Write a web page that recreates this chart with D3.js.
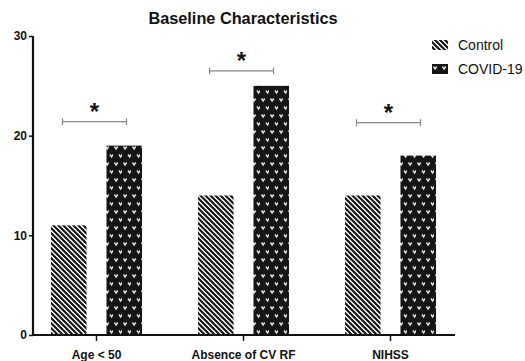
<!DOCTYPE html>
<html><head><meta charset="utf-8">
<script src="https://cdn.jsdelivr.net/npm/d3@7"></script>
<style>body{margin:0;background:#fff}svg{display:block}</style>
</head><body>
<script>
const categories = ["Age < 50", "Absence of CV RF", "NIHSS"];
const seriesNames = ["Control", "COVID-19"];
const controlValues = [11, 14, 14];
const covidValues = [19, 25, 18];
const sigLevels = [21.4, 26.5, 21.3];
const yTicks = [0, 10, 20, 30];
const title = "Baseline Characteristics";

const W = 525, H = 361;
const svg = d3.select("body").append("svg").attr("width", W).attr("height", H);
const font = "Liberation Sans, Arial, Helvetica, sans-serif";

const defs = svg.append("defs");
const stripe = defs.append("pattern").attr("id", "stripe").attr("patternUnits", "userSpaceOnUse")
  .attr("width", 5).attr("height", 5);
stripe.append("rect").attr("width", 5).attr("height", 5).attr("fill", "#fff");
stripe.append("path").attr("d", "M-1,-1L6,6M-1,4L1,6M4,-1L6,1")
  .attr("stroke", "#111").attr("stroke-width", 2.1).attr("fill", "none");

const dots = defs.append("pattern").attr("id", "dots").attr("patternUnits", "userSpaceOnUse")
  .attr("width", 9).attr("height", 16);
dots.append("rect").attr("width", 9).attr("height", 16).attr("fill", "#151515");
[[1.5, 2.5], [6, 10.5]].forEach(([x, y]) => {
  dots.append("path").attr("d", `M${x},${y} L${x + 1.6},${y + 2.4} L${x + 3.2},${y}`)
    .attr("fill", "none").attr("stroke", "#e4e4e4").attr("stroke-width", 1.4);
});

const y = d3.scaleLinear().domain([0, 30]).range([335, 36]);
const x0 = d3.scaleBand().domain(categories).range([23, 464]).padding(0);
const x1 = d3.scaleBand().domain(seriesNames).range([28, 119]).paddingInner(0.36).paddingOuter(0);
const fills = { "Control": "url(#stripe)", "COVID-19": "url(#dots)" };

const data = categories.map((c, i) => ({ cat: c, vals: [
  { s: "Control", v: controlValues[i] }, { s: "COVID-19", v: covidValues[i] }] }));

const g = svg.append("g");
g.selectAll("g.grp").data(data).join("g").attr("class", "grp")
  .attr("transform", d => `translate(${x0(d.cat)},0)`)
  .selectAll("rect").data(d => d.vals).join("rect")
  .attr("x", d => x1(d.s)).attr("width", x1.bandwidth())
  .attr("y", d => y(d.v)).attr("height", d => y(0) - y(d.v))
  .attr("fill", d => fills[d.s]);

// axes
const yAxis = svg.append("g").attr("transform", "translate(33,0)")
  .call(d3.axisLeft(y).tickValues(yTicks).tickSize(4).tickPadding(2));
yAxis.select(".domain").attr("stroke", "#111").attr("stroke-width", 2.2)
  .attr("d", `M0,${y(30)}V${y(0) + 1}`);
yAxis.selectAll(".tick line").attr("stroke", "#111").attr("stroke-width", 1.5);
yAxis.selectAll("text").attr("font-family", font).attr("font-size", 12).attr("font-weight", "bold").attr("fill", "#111");

const xAxis = svg.append("g").attr("transform", `translate(0,${y(0)})`)
  .call(d3.axisBottom(x0).tickSize(6).tickPadding(9));
xAxis.select(".domain").attr("stroke", "#111").attr("stroke-width", 2.2).attr("d", "M32,0H455");
xAxis.selectAll(".tick line").attr("stroke", "#111").attr("stroke-width", 1.5);
xAxis.selectAll("text").attr("font-family", font).attr("font-size", 12).attr("font-weight", "bold").attr("fill", "#111");

// significance brackets
data.forEach((d, i) => {
  const cx = x0(d.cat) + x0.bandwidth() / 2 - 2;
  const by = y(sigLevels[i]);
  const b = svg.append("g").attr("stroke", "#888").attr("stroke-width", 1.2);
  b.append("line").attr("x1", cx - 32).attr("x2", cx + 32).attr("y1", by).attr("y2", by);
  b.append("line").attr("x1", cx - 32).attr("x2", cx - 32).attr("y1", by - 3.5).attr("y2", by + 3.5);
  b.append("line").attr("x1", cx + 32).attr("x2", cx + 32).attr("y1", by - 3.5).attr("y2", by + 3.5);
  svg.append("text").attr("x", cx).attr("y", by - 2).attr("text-anchor", "middle")
    .attr("font-family", font).attr("font-weight", "bold").attr("font-size", 24).attr("fill", "#111").text("*");
});

// title
svg.append("text").attr("x", 243).attr("y", 24).attr("text-anchor", "middle")
  .attr("font-family", font).attr("font-weight", "bold").attr("font-size", 16.3).attr("fill", "#111").text(title);

// legend
const leg = svg.append("g");
seriesNames.forEach((s, i) => {
  const ly = 45 + i * 24;
  leg.append("rect").attr("x", 432).attr("y", ly - 5).attr("width", 16).attr("height", 10).attr("fill", fills[s]);
  leg.append("text").attr("x", 458).attr("y", ly + 5).attr("font-family", font).attr("font-size", 14)
    .attr("fill", "#111").text(s);
});
</script>
</body></html>
